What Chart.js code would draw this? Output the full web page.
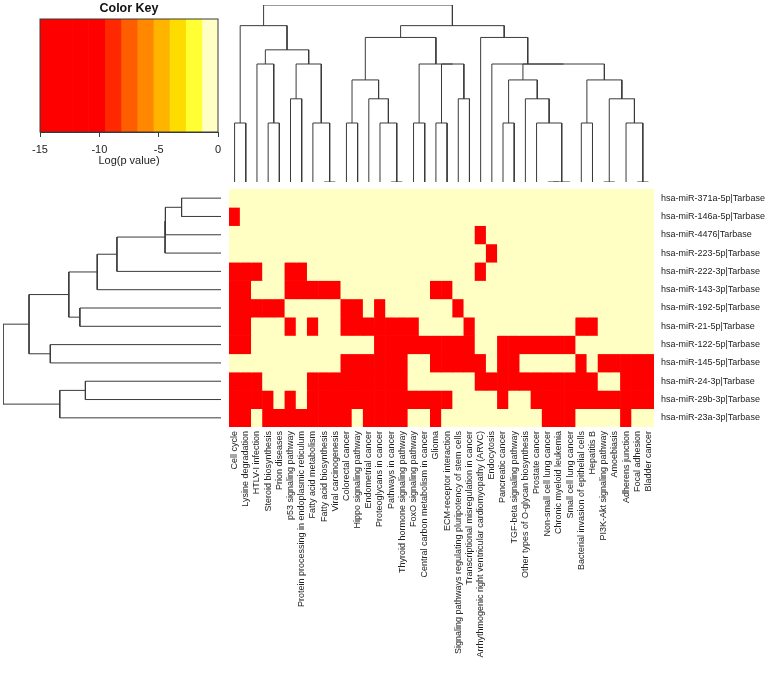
<!DOCTYPE html>
<html>
<head>
<meta charset="utf-8">
<script src="https://cdn.jsdelivr.net/npm/chart.js@4.4.0/dist/chart.umd.min.js"></script>
<style>
  body { margin: 0; background: #fff; }
  #wrap { position: relative; width: 769px; height: 677px; overflow: hidden; }
  canvas { position: absolute; }
</style>
</head>
<body>
<div id="wrap">
  <canvas id="key" width="258" height="172" style="left:0;top:0"></canvas>
  <canvas id="colTree" width="425" height="177" style="left:229px;top:5px"></canvas>
  <canvas id="rowTree" width="218" height="238" style="left:3px;top:189px"></canvas>
  <canvas id="heat" width="540" height="488" style="left:229px;top:189px"></canvas>
</div>
<script>
// pathways (columns), in dendrogram order
var pathways = [
  "Cell cycle", "Lysine degradation", "HTLV-I infection", "Steroid biosynthesis",
  "Prion diseases", "p53 signaling pathway", "Protein processing in endoplasmic reticulum",
  "Fatty acid metabolism", "Fatty acid biosynthesis", "Viral carcinogenesis",
  "Colorectal cancer", "Hippo signaling pathway", "Endometrial cancer",
  "Proteoglycans in cancer", "Pathways in cancer", "Thyroid hormone signaling pathway",
  "FoxO signaling pathway", "Central carbon metabolism in cancer", "Glioma",
  "ECM-receptor interaction", "Signaling pathways regulating pluripotency of stem cells",
  "Transcriptional misregulation in cancer",
  "Arrhythmogenic right ventricular cardiomyopathy (ARVC)", "Endocytosis",
  "Pancreatic cancer", "TGF-beta signaling pathway", "Other types of O-glycan biosynthesis",
  "Prostate cancer", "Non-small cell lung cancer", "Chronic myeloid leukemia",
  "Small cell lung cancer", "Bacterial invasion of epithelial cells", "Hepatitis B",
  "PI3K-Akt signaling pathway", "Amoebiasis", "Adherens junction", "Focal adhesion",
  "Bladder cancer"
];

// miRNAs (rows), top to bottom
var mirnas = [
  "hsa-miR-371a-5p|Tarbase", "hsa-miR-146a-5p|Tarbase", "hsa-miR-4476|Tarbase",
  "hsa-miR-223-5p|Tarbase", "hsa-miR-222-3p|Tarbase", "hsa-miR-143-3p|Tarbase",
  "hsa-miR-192-5p|Tarbase", "hsa-miR-21-5p|Tarbase", "hsa-miR-122-5p|Tarbase",
  "hsa-miR-145-5p|Tarbase", "hsa-miR-24-3p|Tarbase", "hsa-miR-29b-3p|Tarbase",
  "hsa-miR-23a-3p|Tarbase"
];

// 1 = significant (red), 0 = not (pale yellow); one string per miRNA
var hits = [
  "0000000000 0000000000 0000000000 00000000",
  "1000000000 0000000000 0000000000 00000000",
  "0000000000 0000000000 0010000000 00000000",
  "0000000000 0000000000 0001000000 00000000",
  "1110011000 0000000000 0010000000 00000000",
  "1100011111 0000000011 0000000000 00000000",
  "1111100000 1101000000 1000000000 00000000",
  "1100010100 1111111000 0100000000 01100000",
  "1100000000 0001111111 1100111111 10000000",
  "0000000000 1111110011 1110110000 01011111",
  "1110000111 1111110000 0011111111 11100111",
  "1111010111 1111111111 0000100111 11111111",
  "1101111111 1011110010 0000000011 10000100"
];

// color key: breaks on log(p value) and band colours
var keyBreaks = [-15, -13.64, -12.27, -10.91, -9.55, -8.18, -6.82, -5.45, -4.09, -2.73, -1.36, 0];
var keyColors = ["#FF0000", "#FF0000", "#FF0000", "#FF0000", "#FF2800", "#FF5E00",
                 "#FF8800", "#FFB500", "#FFDC00", "#FFFF33", "#FFFFC4"];
var keyTicks = [-15, -10, -5, 0];

// column dendrogram, hclust style: negative = leaf (1-based), positive = earlier merge
var colMerge = [
  [-1, -2, 1], [-4, -5, 1], [-3, 2, 2], [-6, -7, 1.41], [-9, -10, 0],
  [-8, 5, 1], [4, 6, 2], [3, 7, 2.24], [1, 8, 2.65], [-11, -12, 1],
  [-15, -16, 0], [-14, 11, 1], [-13, 12, 1.41], [10, 13, 1.73], [-17, -18, 1],
  [-19, -20, 1], [-21, -22, 1.41], [16, 17, 2], [15, 18, 2], [14, 19, 2.45],
  [-25, -26, 1], [-29, -30, 0], [22, -31, 0], [-28, 23, 1], [-27, 24, 1.41],
  [21, 25, 1.73], [-32, -33, 1], [-34, -35, 0], [-37, -38, 0], [-36, 29, 1],
  [28, 30, 1.41], [27, 31, 1.73], [26, 32, 2], [-24, 33, 2], [-23, 34, 2.45],
  [20, 35, 2.65], [9, 36, 3]
];

// row dendrogram
var rowMerge = [
  [-1, -2, 1], [1, -3, 1.41], [2, -4, 1.42], [3, -5, 2.64], [4, -6, 3.14],
  [-7, -8, 3.58], [5, 6, 3.86], [-9, -10, 4.33], [7, 8, 4.87], [-11, -12, 3.44],
  [10, -13, 4.09], [9, 11, 5.53]
];

Chart.defaults.font.family = "'Liberation Sans', Arial, sans-serif";
Chart.defaults.color = "#222";

var lineColor = "#3a3a3a";

function treeSegments(merges) {
  var pos = [], hgt = [], segs = [];
  merges.forEach(function (m, i) {
    var ends = [m[0], m[1]].map(function (k) {
      return k < 0 ? [-k - 1, 0] : [pos[k - 1], hgt[k - 1]];
    });
    pos[i] = (ends[0][0] + ends[1][0]) / 2;
    hgt[i] = m[2];
    segs.push([ends[0], [ends[0][0], m[2]], [ends[1][0], m[2]], ends[1]]);
  });
  return segs;
}

function treeDatasets(merges, horizontal) {
  return treeSegments(merges).map(function (seg) {
    return {
      data: seg.map(function (p) {
        return horizontal ? { x: p[1], y: p[0] } : { x: p[0], y: p[1] };
      }),
      showLine: true,
      pointRadius: 0,
      borderColor: lineColor,
      borderWidth: 1,
      clip: false
    };
  });
}

function maxHeight(merges) {
  return Math.max.apply(null, merges.map(function (m) { return m[2]; }));
}

// keep axis labels from pushing the plot area inwards
function noEdgePadding(s) {
  s.paddingTop = 0;
  s.paddingBottom = 0;
  s.paddingLeft = 0;
  s.paddingRight = 0;
}

var noPlugins = { legend: { display: false }, tooltip: { enabled: false } };

// top dendrogram
new Chart(document.getElementById("colTree"), {
  type: "scatter",
  data: { datasets: treeDatasets(colMerge, false) },
  options: {
    responsive: false,
    animation: false,
    layout: { padding: 0 },
    scales: {
      x: { display: false, min: -0.5, max: pathways.length - 0.5 },
      y: { display: false, min: 0, max: maxHeight(colMerge) }
    },
    plugins: noPlugins
  }
});

// left dendrogram
new Chart(document.getElementById("rowTree"), {
  type: "scatter",
  data: { datasets: treeDatasets(rowMerge, true) },
  options: {
    responsive: false,
    animation: false,
    layout: { padding: 0 },
    scales: {
      x: { display: false, min: 0, max: maxHeight(rowMerge), reverse: true },
      y: { display: false, min: -0.5, max: mirnas.length - 0.5, reverse: true }
    },
    plugins: noPlugins
  }
});

// heatmap: one floating bar per cell, one dataset per miRNA
var hitColor = keyColors[0];
var missColor = keyColors[keyColors.length - 1];

var heatSets = hits.map(function (row, r) {
  var bits = row.replace(/ /g, "").split("");
  return {
    label: mirnas[r],
    data: bits.map(function () { return [r, r + 1]; }),
    backgroundColor: bits.map(function (b) { return b === "1" ? hitColor : missColor; }),
    barPercentage: 1,
    categoryPercentage: 1,
    grouped: false,
    borderWidth: 0
  };
});

new Chart(document.getElementById("heat"), {
  type: "bar",
  data: { labels: pathways, datasets: heatSets },
  options: {
    responsive: false,
    animation: false,
    layout: { padding: 0 },
    scales: {
      x: {
        grid: { display: false, drawTicks: false },
        border: { display: false },
        ticks: {
          autoSkip: false, minRotation: 90, maxRotation: 90,
          padding: 4, color: "#222", font: { size: 9 }
        },
        afterFit: function (s) { s.height = 250; noEdgePadding(s); }
      },
      y: { display: false, min: 0, max: mirnas.length, reverse: true },
      yl: {
        type: "category",
        labels: mirnas,
        position: "right",
        offset: true,
        grid: { display: false, drawTicks: false },
        border: { display: false },
        ticks: { padding: 7, color: "#222", font: { size: 9 } },
        afterFit: function (s) { s.width = 115; noEdgePadding(s); }
      }
    },
    plugins: noPlugins
  }
});

// colour key
var boxPlugin = {
  id: "box",
  afterDatasetsDraw: function (chart) {
    var a = chart.chartArea, ctx = chart.ctx;
    ctx.save();
    ctx.strokeStyle = lineColor;
    ctx.lineWidth = 1;
    ctx.strokeRect(a.left, a.top, a.right - a.left, a.bottom - a.top);
    ctx.restore();
  }
};

new Chart(document.getElementById("key"), {
  type: "bar",
  data: {
    labels: [""],
    datasets: keyColors.map(function (c, i) {
      return {
        data: [[keyBreaks[i], keyBreaks[i + 1]]],
        backgroundColor: c,
        barPercentage: 1,
        categoryPercentage: 1,
        grouped: false,
        borderWidth: 0
      };
    })
  },
  options: {
    indexAxis: "y",
    responsive: false,
    animation: false,
    layout: { padding: { left: 40, right: 40, top: 0, bottom: 0 } },
    scales: {
      x: {
        type: "linear",
        min: keyBreaks[0],
        max: keyBreaks[keyBreaks.length - 1],
        afterBuildTicks: function (s) {
          s.ticks = keyTicks.map(function (v) { return { value: v }; });
        },
        ticks: { padding: 6, color: "#222", font: { size: 11 } },
        grid: { drawOnChartArea: false, tickLength: 5, color: lineColor },
        border: { color: lineColor },
        title: {
          display: true, text: "Log(p value)", color: "#222",
          font: { size: 11 }, padding: { top: 0, bottom: 4 }
        },
        afterFit: function (s) { s.height = 40; }
      },
      y: { display: false }
    },
    plugins: {
      legend: { display: false },
      tooltip: { enabled: false },
      title: {
        display: true, text: "Color Key", color: "#111",
        font: { size: 12.5, weight: "bold" },
        padding: { top: 1, bottom: 3 }
      }
    }
  },
  plugins: [boxPlugin]
});
</script>
</body>
</html>
